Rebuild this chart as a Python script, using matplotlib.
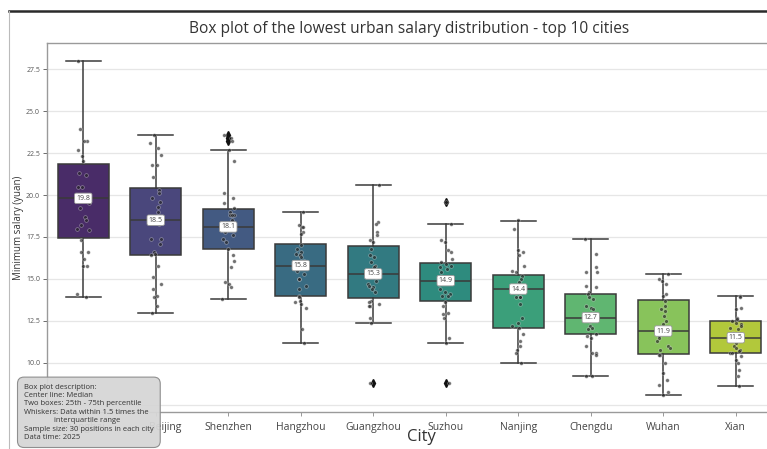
import numpy as np
import matplotlib
matplotlib.use("Agg")
import matplotlib.pyplot as plt
import matplotlib.transforms as mtransforms
import seaborn as sns
from matplotlib.lines import Line2D

plt.rcParams['font.family'] = ['Open Sans', 'DejaVu Sans']

# Cities (first label sits under the description box)
cities = ['Shanghai', 'Beijing', 'Shenzhen', 'Hangzhou', 'Guangzhou',
          'Suzhou', 'Nanjing', 'Chengdu', 'Wuhan', 'Xian']

# Box statistics
q1 = [17.46, 16.41, 16.77, 13.99, 13.85, 13.69, 12.10, 11.71, 10.52, 10.60]
med = [19.8, 18.5, 18.1, 15.8, 15.3, 14.9, 14.4, 12.7, 11.9, 11.5]
q3 = [21.85, 20.4, 19.18, 17.08, 16.96, 15.93, 15.24, 14.11, 13.75, 12.5]
whislo = [13.9, 13.0, 13.8, 11.2, 12.4, 11.17, 10.0, 9.2, 8.1, 8.6]
whishi = [28.0, 23.6, 22.7, 19.0, 20.6, 18.3, 18.47, 17.36, 15.28, 14.0]
fliers = [[], [], [23.2, 23.4, 23.6], [], [8.8], [19.6, 8.8], [], [], [], []]

# Individual positions (30 per city)
shanghai = [28.0, 23.9, 23.2, 23.2, 22.7, 22.3, 22.0, 21.3, 21.2, 20.5, 20.5, 20.0, 19.9, 19.8, 19.7,
            19.5, 19.2, 18.7, 18.5, 18.2, 18.0, 17.9, 17.3, 16.6, 16.6, 16.2, 15.8, 15.8, 14.1, 13.9]
beijing = [23.6, 23.1, 22.8, 22.4, 21.8, 21.8, 21.1, 20.3, 20.1, 19.8, 19.6, 19.3, 19.0, 18.7, 18.5,
           18.3, 17.4, 17.4, 17.1, 16.6, 16.5, 16.4, 15.8, 15.1, 14.7, 14.4, 14.0, 13.9, 13.4, 13.0]
shenzhen = [23.6, 23.4, 23.2, 22.7, 22.0, 20.1, 19.8, 19.5, 19.2, 19.0, 18.8, 18.8, 18.8, 18.5, 18.2,
            18.1, 18.0, 17.9, 17.8, 17.6, 17.4, 17.2, 16.8, 16.4, 16.1, 15.7, 14.8, 14.7, 14.5, 13.8]
hangzhou = [19.0, 18.2, 18.1, 18.1, 17.8, 17.7, 17.0, 16.8, 16.6, 16.5, 16.4, 16.3, 16.1, 15.9, 15.8,
            15.7, 15.5, 15.3, 15.0, 15.0, 14.6, 14.4, 14.0, 13.9, 13.7, 13.6, 13.5, 13.3, 12.0, 11.2]
guangzhou = [20.6, 18.4, 18.3, 17.8, 17.6, 17.3, 17.2, 16.8, 16.4, 16.3, 16.0, 15.8, 15.7, 15.5, 15.3,
             15.2, 14.9, 14.7, 14.6, 14.5, 14.4, 14.2, 13.7, 13.6, 13.5, 13.4, 13.4, 12.7, 12.4, 8.8]
suzhou = [19.6, 18.3, 17.3, 17.2, 16.7, 16.6, 16.2, 16.0, 15.9, 15.8, 15.7, 15.6, 15.4, 15.0, 14.9,
          14.8, 14.7, 14.4, 14.2, 14.1, 14.0, 14.0, 13.6, 13.4, 13.0, 12.9, 12.7, 11.5, 11.2, 8.8]
nanjing = [18.5, 18.0, 16.7, 16.6, 16.4, 15.8, 15.5, 15.4, 15.2, 15.0, 14.8, 14.6, 14.5, 14.4, 14.4,
           14.3, 13.9, 13.9, 13.9, 13.5, 12.7, 12.4, 12.2, 12.1, 11.7, 11.3, 11.0, 10.8, 10.6, 10.0]
chengdu = [17.4, 16.5, 15.7, 15.4, 15.4, 14.6, 14.5, 14.2, 14.1, 13.9, 13.8, 13.4, 13.3, 13.2, 12.9,
           12.7, 12.6, 12.5, 12.2, 12.1, 12.0, 11.7, 11.6, 11.5, 11.0, 10.6, 10.6, 10.5, 9.2, 9.2]
wuhan = [15.3, 15.0, 14.9, 14.7, 14.1, 14.0, 13.7, 13.4, 13.2, 13.1, 12.8, 12.5, 12.3, 12.0, 11.9,
         11.8, 11.6, 11.5, 11.3, 11.0, 10.9, 10.8, 10.5, 10.5, 10.0, 9.4, 9.0, 8.7, 8.3, 8.1]
xian = [14.0, 13.9, 13.3, 13.2, 12.7, 12.6, 12.5, 12.4, 12.3, 12.2, 12.1, 12.0, 11.8, 11.6, 11.5,
        11.5, 11.4, 11.2, 11.0, 10.9, 10.8, 10.7, 10.6, 10.6, 10.4, 10.2, 10.0, 9.6, 9.2, 8.6]
points = [shanghai, beijing, shenzhen, hangzhou, guangzhou, suzhou, nanjing, chengdu, wuhan, xian]

colors = sns.color_palette('viridis', len(cities), desat=0.75)

fig = plt.figure(figsize=(7.67, 4.49), dpi=100)
ax = fig.add_axes([47 / 767, 37 / 449, 725 / 767, 369 / 449])

stats = []
for i in range(len(cities)):
    stats.append(dict(q1=q1[i], med=med[i], q3=q3[i], whislo=whislo[i],
                      whishi=whishi[i], fliers=fliers[i], label=cities[i]))

line_c = '#3a3a3a'
bp = ax.bxp(stats, positions=range(len(cities)), widths=0.7, patch_artist=True,
            boxprops=dict(edgecolor=line_c, linewidth=1.1),
            medianprops=dict(color=line_c, linewidth=1.1),
            whiskerprops=dict(color=line_c, linewidth=1.1),
            capprops=dict(color=line_c, linewidth=1.1),
            capwidths=0.48,
            flierprops=dict(marker='d', markerfacecolor='#111111', markeredgecolor='#111111',
                            markersize=4),
            zorder=2)
for patch, c in zip(bp['boxes'], colors):
    patch.set_facecolor(c)

# jittered strip of individual values
rng = np.random.default_rng(3)
for i, vals in enumerate(points):
    xs = i + rng.uniform(-0.09, 0.09, len(vals))
    ax.scatter(xs, vals, s=7, color='#262626', alpha=0.65, edgecolors='white',
               linewidths=0.3, zorder=3)

# median labels
for i, m in enumerate(med):
    ax.text(i, m, f'{m:.1f}', ha='center', va='center', fontsize=5, color='#444444',
            bbox=dict(boxstyle='round,pad=0.25', facecolor='white', edgecolor='#999999',
                      linewidth=0.6), zorder=4)

ax.set_xlim(-0.5, len(cities) - 0.5)
ax.set_ylim(7.08, 29.05)
yt = [7.5, 10.0, 12.5, 15.0, 17.5, 20.0, 22.5, 25.0, 27.5]
ax.set_yticks(yt)
ax.set_yticklabels([f'{v:.1f}' for v in yt])
ax.set_xticks(range(len(cities)))
ax.set_xticklabels(cities)
ax.tick_params(axis='y', labelsize=5, colors='#555555', length=3, width=0.6, pad=2)
ax.tick_params(axis='x', labelsize=7.5, labelcolor='#444444', color='#888888', length=3,
               width=0.6, pad=4)
# Beijing label sits a little right of its tick in the original
lab = ax.get_xticklabels()[1]
lab.set_transform(lab.get_transform() + mtransforms.ScaledTranslation(9 / 100, 0, fig.dpi_scale_trans))
ax.grid(axis='y', color='#e6e6e6', linewidth=0.9, zorder=0)
ax.set_axisbelow(True)
for s in ax.spines.values():
    s.set_color('#9a9a9a')
    s.set_linewidth(1.0)

ax.set_title('Box plot of the lowest urban salary distribution - top 10 cities',
             fontsize=11.2, color='#333333', pad=7)
ax.set_ylabel('Minimum salary (yuan)', fontsize=7, color='#333333')
ax.yaxis.set_label_coords(-0.032, 0.5)
ax.set_xlabel('City', fontsize=12, color='#333333')
ax.xaxis.set_label_coords(0.516, -0.046)

# screenshot frame
fig.add_artist(Line2D([9 / 767, 1], [1 - 11 / 449, 1 - 11 / 449], color='#2a2a2a', linewidth=1.8))
fig.add_artist(Line2D([9 / 767, 9 / 767], [0, 1 - 11 / 449], color='#bbbbbb', linewidth=0.8))

desc = ('Box plot description:\n'
        'Center line: Median\n'
        'Two boxes: 25th - 75th percentile\n'
        'Whiskers: Data within 1.5 times the\n'
        '               interquartile range\n'
        'Sample size: 30 positions in each city\n'
        'Data time: 2025')
fig.text(24 / 767, 8 / 449, desc, ha='left', va='bottom', fontsize=5.5, color='#333333',
         linespacing=1.28,
         bbox=dict(boxstyle='round,pad=0.85', facecolor='#d6d6d6', edgecolor='#8a8a8a',
                   linewidth=0.8, alpha=0.95), zorder=10)

fig.savefig('out.png', dpi=100)
